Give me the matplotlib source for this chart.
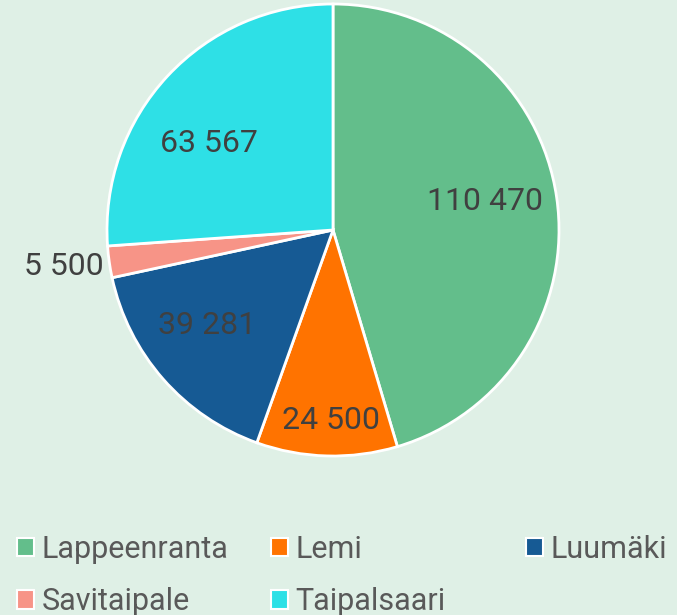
import numpy as np
import matplotlib.pyplot as plt
from matplotlib.patches import Patch

kunnat = ["Lappeenranta", "Lemi", "Luumäki", "Savitaipale", "Taipalsaari"]
arvot = [110470, 24500, 39281, 5500, 63567]
varit = ["#63be8b", "#ff7300", "#165a94", "#f79487", "#2ee0e6"]

# label placement tweaks (radius fraction, angle shift in deg)
lab_r = [0.685, 0.835, 0.693, 1.2, 0.675]
lab_da = [3.3, 0.9, -4.9, -0.8, 7.3]

bg = "#dff0e6"
W, H = 677, 615
fontti = ["Roboto", "DejaVu Sans"]

fig = plt.figure(figsize=(W / 100, H / 100), dpi=100, facecolor=bg)

# pie centre ~ (333, 230) px, radius ~ 226 px
cx, cy, r = 333, 230, 226
ax = fig.add_axes([(cx - r) / W, (H - cy - r) / H, 2 * r / W, 2 * r / H])
ax.set_facecolor(bg)

total = sum(arvot)

def fmt(pct):
    v = int(round(pct * total / 100.0))
    return "{:,}".format(v).replace(",", " ")

wedges, texts, autotexts = ax.pie(
    arvot, colors=varit, startangle=90, counterclock=False,
    autopct=fmt, pctdistance=0.68,
    wedgeprops=dict(edgecolor="white", linewidth=2),
    textprops=dict(color="#404040", fontsize=23, family=fontti))
ax.set_xlim(-1, 1)
ax.set_ylim(-1, 1)

for w, t, rr, da in zip(wedges, autotexts, lab_r, lab_da):
    ang = np.deg2rad((w.theta1 + w.theta2) / 2 + da)
    t.set_position((rr * np.cos(ang), rr * np.sin(ang) - 0.01))
    t.set_clip_on(False)

handles = [Patch(facecolor=c, edgecolor="white", linewidth=1.5) for c in varit]
cols = [[0, 3], [1, 4], [2]]
xs = [14, 268, 523]
for col, x in zip(cols, xs):
    leg = fig.legend([handles[k] for k in col], [kunnat[k] for k in col],
                     loc="upper left", bbox_to_anchor=(x / W, 1 - 532 / H),
                     frameon=False, labelcolor="#595959",
                     prop=dict(family=fontti, size=22),
                     handlelength=0.55, handleheight=0.55, handletextpad=0.26,
                     labelspacing=0.76, borderaxespad=0, borderpad=0.1)

fig.savefig("out.png", dpi=100, facecolor=bg)
